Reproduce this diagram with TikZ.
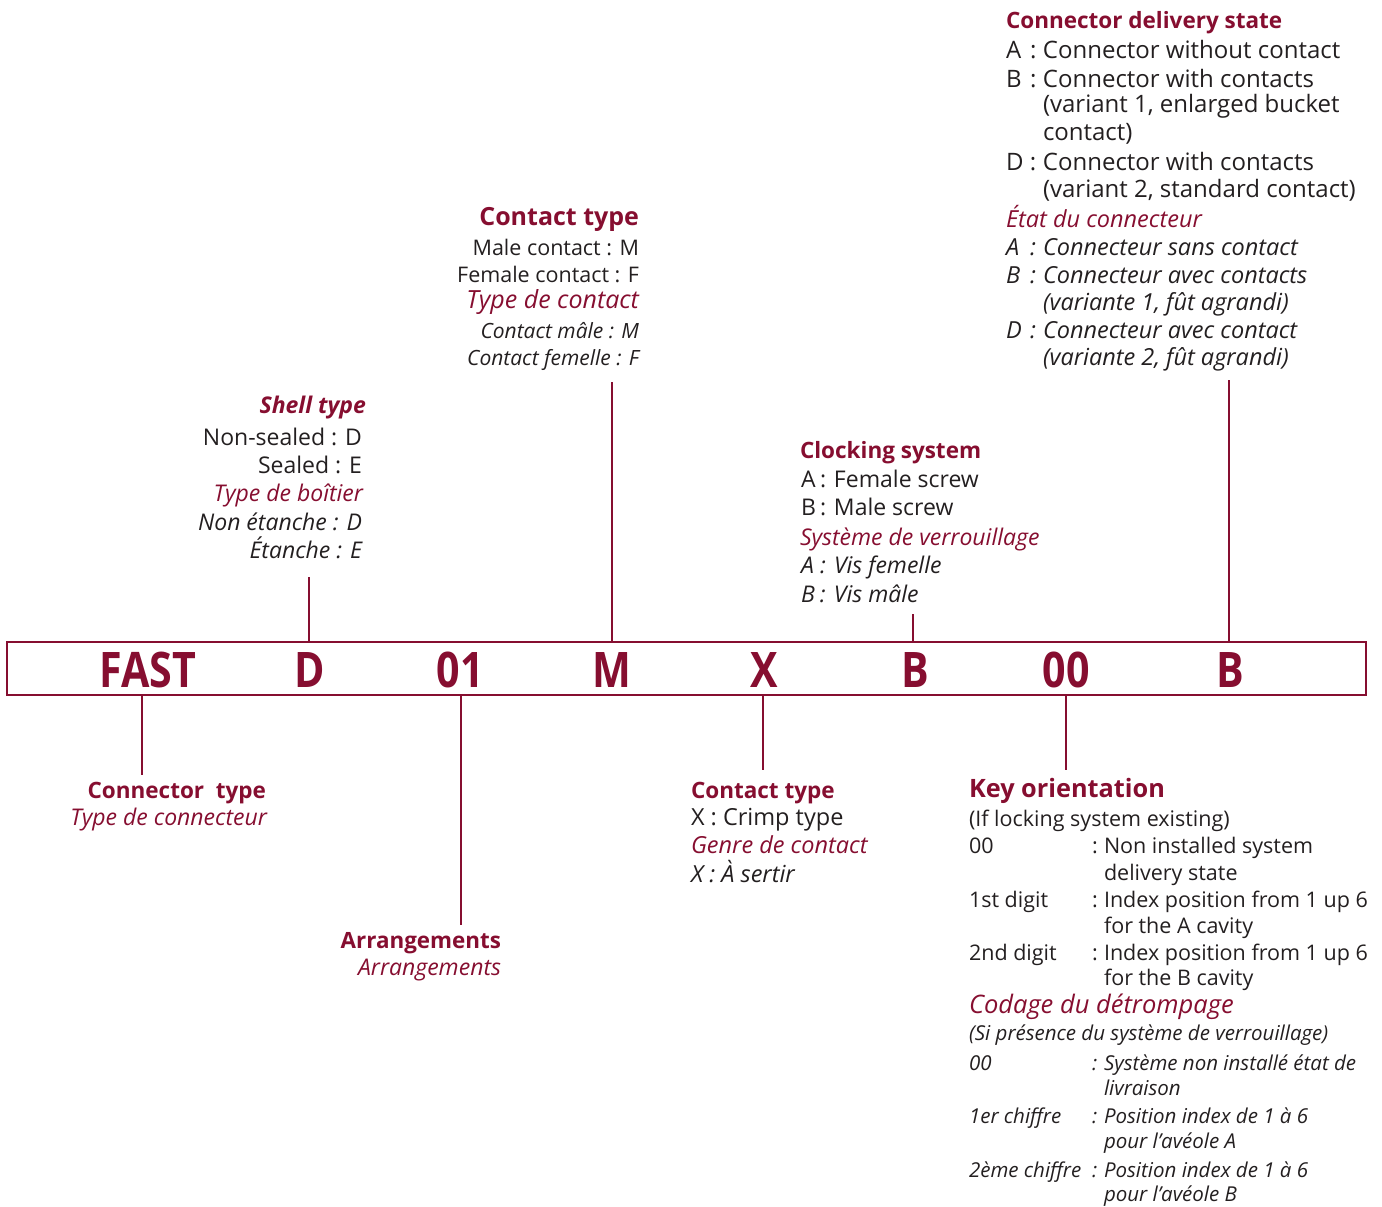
\documentclass[tikz,border=0pt]{standalone}
\usepackage{graphicx}
\usepackage{fontspec}
\setmainfont{Open Sans}
\definecolor{brand}{RGB}{134,14,48}
\definecolor{ink}{RGB}{35,31,32}
\newcommand\tagA[1]{\makebox[24pt][l]{#1}\makebox[13pt][l]{:}}
\newcommand\tagB[1]{\makebox[19pt][l]{#1}\makebox[14pt][l]{:}}
\newcommand\colt{\makebox[12pt][l]{:}}
\newcommand\cond[1]{\scalebox{0.84}[1]{#1}}
\tikzset{
  every node/.style={inner sep=0pt, outer sep=0pt},
  hd/.style={text=brand, font=\fontsize{#1}{#1}\selectfont\bfseries},
  hdi/.style={text=brand, font=\fontsize{#1}{#1}\selectfont\bfseries\itshape},
  tx/.style={text=ink, font=\fontsize{#1}{#1}\selectfont},
  fh/.style={text=brand, font=\fontsize{#1}{#1}\selectfont\itshape},
  ft/.style={text=ink, font=\fontsize{#1}{#1}\selectfont\itshape},
  L/.style={anchor=base west},
  R/.style={anchor=base east},
  lead/.style={draw=brand, line width=2pt},
  code/.style={text=brand, font=\fontsize{49}{49}\selectfont\bfseries},
  frame/.style={draw=brand, line width=1.5pt}
}
\begin{document}
\begin{tikzpicture}[x=1pt,y=-1pt]
\useasboundingbox (0,0) rectangle (1382,1207);

% ---- code box ----
\node[frame, minimum width=1359pt, minimum height=53pt] (box) at (686.5,668.5) {};
\node[code] (cFAST) at (148,670) {\cond{FAST}};
\node[code] (cD) at (310,670) {\cond{D}};
\node[code] (c01) at (460,670) {\cond{01}};
\node[code] (cM) at (612,670) {\cond{M}};
\node[code] (cX) at (764,670) {\cond{X}};
\node[code] (cB1) at (915,670) {\cond{B}};
\node[code] (c00) at (1066,670) {\cond{00}};
\node[code] (cB2) at (1230,670) {\cond{B}};

% ---- Connector delivery state ----
\node[hd=22.5,L] (cds) at (1006,29) {Connector delivery state};
\node[tx=24,L] (cdsA) at (1006,59) {\tagA{A}Connector without contact};
\node[tx=24,L] (cdsB) at (1006,88) {\tagA{B}Connector with contacts};
\node[tx=24,L] (cdsB2) at (1043,113) {(variant 1, enlarged bucket};
\node[tx=24,L] (cdsB3) at (1043,140) {contact)};
\node[tx=24,L] (cdsD) at (1006,170) {\tagA{D}Connector with contacts};
\node[tx=24,L] (cdsD2) at (1043,197) {(variant 2, standard contact)};
\node[fh=23.5,L] (edc) at (1006,227) {État du connecteur};
\node[ft=23.5,L] (edcA) at (1006,255) {\tagA{A}Connecteur sans contact};
\node[ft=23.5,L] (edcB) at (1006,283) {\tagA{B}Connecteur avec contacts};
\node[ft=23.5,L] (edcB2) at (1043,310) {(variante 1, fût agrandi)};
\node[ft=23.5,L] (edcD) at (1006,338) {\tagA{D}Connecteur avec contact};
\node[ft=23.5,L] (edcD2) at (1043,365) {(variante 2, fût agrandi)};

% ---- Contact type (top) ----
\node[hd=25,R] (ct) at (639,225) {Contact type};
\node[tx=21.5,R] (ctM) at (639,255) {Male contact : M};
\node[tx=21.5,R] (ctF) at (639,282) {Female contact : F};
\node[fh=25,R] (tdc) at (639,308) {Type de contact};
\node[ft=21,R] (tdcM) at (639,338) {Contact mâle : M};
\node[ft=21,R] (tdcF) at (639,365) {Contact femelle : F};

% ---- Shell type ----
\node[hdi=23,R] (st) at (366,413) {Shell type};
\node[tx=23,R] (stD) at (362,445) {Non-sealed : D};
\node[tx=23,R] (stE) at (362,473) {Sealed : E};
\node[fh=23,R] (tdb) at (363,501) {Type de boîtier};
\node[ft=23,R] (tdbD) at (362,530) {Non étanche : D};
\node[ft=23,R] (tdbE) at (362,558) {Étanche : E};

% ---- Clocking system ----
\node[hd=22.5,L] (cs) at (800,458) {Clocking system};
\node[tx=23,L] (csA) at (801,487) {\tagB{A}Female screw};
\node[tx=23,L] (csB) at (801,515) {\tagB{B}Male screw};
\node[fh=23,L] (sdv) at (800,545) {Système de verrouillage};
\node[ft=23,L] (sdvA) at (801,573) {\tagB{A}Vis femelle};
\node[ft=23,L] (sdvB) at (801,602) {\tagB{B}Vis mâle};

% ---- Connector type ----
\node[hd=22.5,R] (cty) at (266,798) {Connector\ \ type};
\node[fh=23,R] (tdcn) at (267,825) {Type de connecteur};

% ---- Arrangements ----
\node[hd=22.4,R] (arr) at (501,948) {Arrangements};
\node[fh=23,R] (arrf) at (501,975) {Arrangements};

% ---- Contact type (bottom) ----
\node[hd=22.5,L] (ct2) at (691,798) {Contact type};
\node[tx=23.5,L] (ct2X) at (691,825) {X : Crimp type};
\node[fh=23.5,L] (gdc) at (691,853) {Genre de contact};
\node[ft=23.5,L] (gdcX) at (691,882) {X : À sertir};

% ---- Key orientation ----
\node[hd=25.3,L] (ko) at (969,797) {Key orientation};
\node[tx=21.5,L] (koif) at (969,826) {(If locking system existing)};
\node[tx=21.5,L] (ko00) at (969,853) {00};
\node[tx=21.5,L] (ko00t) at (1092,853) {\colt Non installed system};
\node[tx=21.5,L] (ko00u) at (1104,880) {delivery state};
\node[tx=21.5,L] (ko1) at (969,907) {1st digit};
\node[tx=21.5,L] (ko1t) at (1092,907) {\colt Index position from 1 up 6};
\node[tx=21.5,L] (ko1u) at (1104,933) {for the A cavity};
\node[tx=21.5,L] (ko2) at (969,960) {2nd digit};
\node[tx=21.5,L] (ko2t) at (1092,960) {\colt Index position from 1 up 6};
\node[tx=21.5,L] (ko2u) at (1104,985) {for the B cavity};
\node[fh=25.5,L] (cdd) at (969,1013) {Codage du détrompage};
\node[ft=20.5,L] (cddsi) at (969,1040) {(Si présence du système de verrouillage)};
\node[ft=20.5,L] (cd00) at (969,1070) {00};
\node[ft=20.5,L] (cd00t) at (1092,1070) {\colt Système non installé état de};
\node[ft=20.5,L] (cd00u) at (1104,1095) {livraison};
\node[ft=20.5,L] (cd1) at (969,1123) {1er chiffre};
\node[ft=20.5,L] (cd1t) at (1092,1123) {\colt Position index de 1 à 6};
\node[ft=20.5,L] (cd1u) at (1104,1148) {pour l’avéole A};
\node[ft=20.5,L] (cd2) at (969,1177) {2ème chiffre};
\node[ft=20.5,L] (cd2t) at (1092,1177) {\colt Position index de 1 à 6};
\node[ft=20.5,L] (cd2u) at (1104,1201) {pour l’avéole B};

% ---- leader lines ----
\coordinate (lD) at (309,577);
\coordinate (lM) at (612,382);
\coordinate (lB1) at (913,614);
\coordinate (lB2) at (1229,380);
\coordinate (lF) at (142,775);
\coordinate (l01) at (461,925);
\coordinate (lX) at (763,770);
\coordinate (l00) at (1066,770);
\draw[lead] (lD) -- (lD |- box.north);
\draw[lead] (lM) -- (lM |- box.north);
\draw[lead] (lB1) -- (lB1 |- box.north);
\draw[lead] (lB2) -- (lB2 |- box.north);
\draw[lead] (lF |- box.south) -- (lF);
\draw[lead] (l01 |- box.south) -- (l01);
\draw[lead] (lX |- box.south) -- (lX);
\draw[lead] (l00 |- box.south) -- (l00);
\end{tikzpicture}
\end{document}
